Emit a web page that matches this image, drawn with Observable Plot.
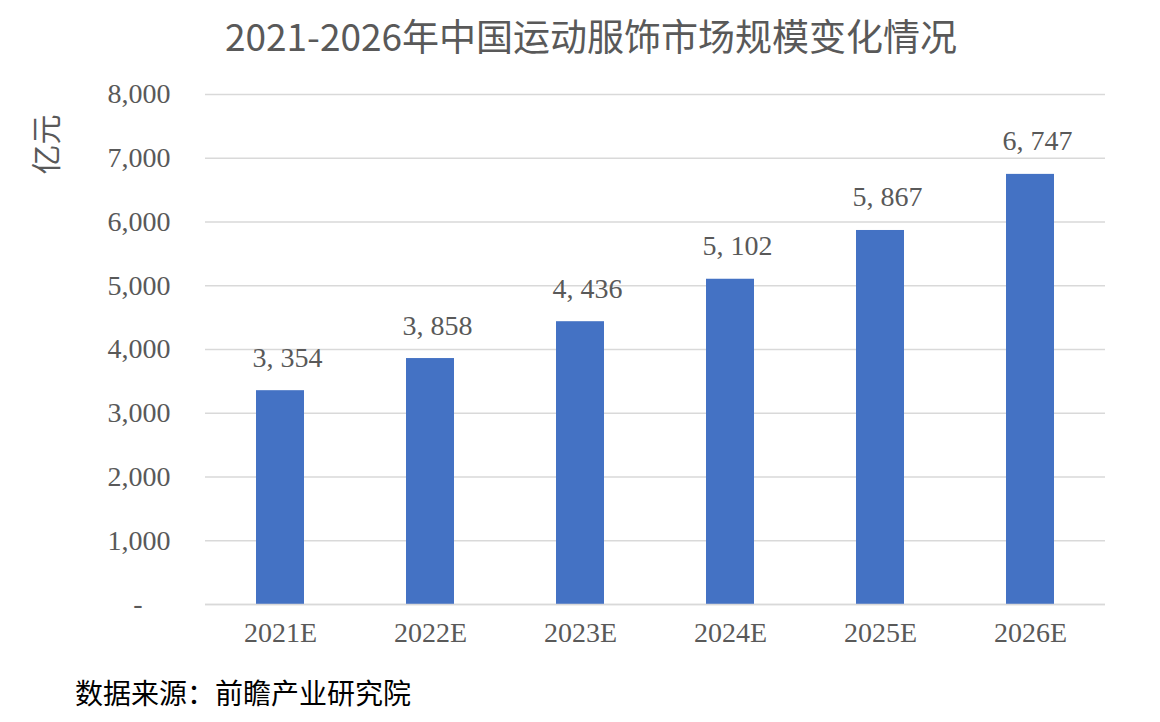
<!DOCTYPE html>
<html>
<head>
<meta charset="utf-8">
<script src="https://cdn.jsdelivr.net/npm/d3@7"></script>
<script src="https://cdn.jsdelivr.net/npm/@observablehq/plot@0.6"></script>
<style>
  body { margin: 0; background: #fff; width: 1160px; height: 722px; overflow: hidden; }
  #title { height: 70px; line-height: 70px; text-align: center; padding-left: 22px; box-sizing: border-box;
    font-family: "Noto Sans CJK SC", sans-serif; font-size: 37px; color: #595959; white-space: nowrap; }
  #source { height: 44px; line-height: 44px; padding-left: 75px;
    font-family: "Noto Sans CJK SC", sans-serif; font-size: 28px; color: #000; }
</style>
</head>
<body>
<div id="title">2021-2026年中国运动服饰市场规模变化情况</div>
<div id="chart"></div>
<div id="source">数据来源：前瞻产业研究院</div>
<script>
const years = ["2021E", "2022E", "2023E", "2024E", "2025E", "2026E"];
const values = [3354, 3858, 4436, 5102, 5867, 6747];
const yTicks = [0, 1000, 2000, 3000, 4000, 5000, 6000, 7000, 8000];
const yLabel = "亿元";

const data = years.map((y, i) => ({year: y, value: values[i]}));
const fmt = d3.format(",");
const numFont = "'Liberation Serif', 'DejaVu Serif', serif";

const chart = Plot.plot({
  width: 1160,
  height: 600,
  marginTop: 24,
  marginBottom: 66,
  marginLeft: 205,
  marginRight: 55,
  style: {fontFamily: numFont, fontSize: "28px", color: "#595959", background: "#fff"},
  x: {domain: years, paddingInner: 0.68, paddingOuter: 0.34, label: null},
  y: {domain: [0, 8000], ticks: yTicks, label: null},
  marks: [
    Plot.gridY(yTicks, {stroke: "#d9d9d9", strokeOpacity: 1, strokeWidth: 1.3}),
    Plot.barY(data, {x: "year", y: "value", fill: "#4472C4"}),
    Plot.ruleY([0], {stroke: "#d9d9d9", strokeWidth: 1.5}),
    Plot.axisX({tickSize: 0, tickPadding: 18, fontSize: 28, fill: "#595959"}),
    Plot.axisY(yTicks, {tickSize: 0, tickPadding: 35, fontSize: 28, fill: "#595959",
      tickFormat: d => d === 0 ? "-\u2007\u2007" : fmt(d)}),
    Plot.text(data, {x: "year", y: "value", text: d => fmt(d.value).replace(",", ", "),
      lineAnchor: "bottom", dy: -24, dx: 7, fontSize: 28, fill: "#595959"}),
    Plot.text([yLabel], {frameAnchor: "top-left", dx: -170, dy: 80, rotate: -90,
      fontSize: 30, fill: "#595959", fontFamily: "'Noto Sans CJK SC', sans-serif"})
  ]
});
document.getElementById("chart").appendChild(chart);
</script>
</body>
</html>
